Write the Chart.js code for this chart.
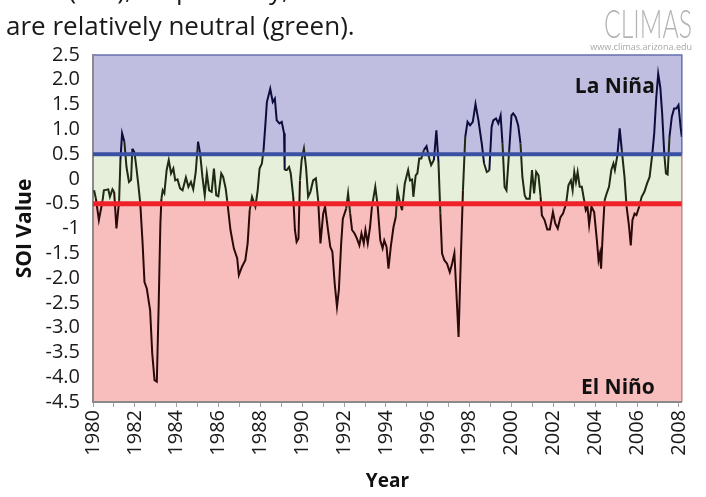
<!DOCTYPE html>
<html>
<head>
<meta charset="utf-8">
<script src="https://cdn.jsdelivr.net/npm/chart.js@4.4.1/dist/chart.umd.min.js"></script>
<style>
 html, body { margin: 0; padding: 0; background: #fff; }
</style>
</head>
<body>
<canvas id="soi" width="706" height="497"></canvas>
<script>
// SOI (decimal year, value)
const years = [
 1980.05,1980.14,1980.28,1980.46,1980.52,1980.73,1980.81,1980.93,1981.01,1981.12,1981.25,1981.31,1981.39,1981.50,1981.60,1981.72,1981.82,1981.88,1981.98,
 1982.07,1982.17,1982.26,1982.37,1982.46,1982.57,1982.73,1982.83,1982.94,1983.05,1983.14,1983.22,1983.27,1983.33,1983.41,1983.52,1983.62,1983.73,1983.84,1983.93,
 1984.04,1984.16,1984.28,1984.44,1984.56,1984.68,1984.79,1984.91,1985.02,1985.12,1985.23,1985.34,1985.44,1985.55,1985.67,1985.78,1985.89,1985.99,
 1986.13,1986.22,1986.34,1986.41,1986.57,1986.73,1986.89,1986.97,1987.12,1987.28,1987.39,1987.49,1987.60,1987.76,1987.87,1987.96,
 1988.07,1988.15,1988.23,1988.31,1988.47,1988.59,1988.69,1988.78,1988.91,1989.02,1989.13,1989.16,1989.26,1989.37,1989.45,1989.57,1989.65,1989.73,1989.82,1989.89,1989.97,
 1990.08,1990.18,1990.28,1990.39,1990.52,1990.65,1990.76,1990.87,1991.00,1991.09,1991.23,1991.34,1991.44,1991.55,1991.66,1991.75,1991.86,1991.94,
 1992.10,1992.19,1992.29,1992.38,1992.50,1992.61,1992.73,1992.83,1992.94,1993.02,1993.13,1993.24,1993.33,1993.49,1993.60,1993.73,1993.84,1993.92,
 1994.03,1994.12,1994.23,1994.36,1994.47,1994.55,1994.66,1994.77,1994.90,1995.06,1995.15,1995.25,1995.31,1995.42,1995.50,1995.59,1995.69,1995.81,1995.94,
 1996.05,1996.16,1996.29,1996.41,1996.51,1996.60,1996.68,1996.79,1996.92,1997.05,1997.16,1997.27,1997.36,1997.47,1997.58,1997.68,1997.79,1997.90,
 1998.02,1998.15,1998.28,1998.42,1998.58,1998.69,1998.82,1998.94,1999.05,1999.13,1999.26,1999.37,1999.48,1999.57,1999.67,1999.76,1999.89,
 2000.00,2000.08,2000.20,2000.32,2000.43,2000.52,2000.63,2000.71,2000.87,2000.98,2001.08,2001.18,2001.29,2001.39,2001.45,2001.58,2001.71,2001.83,2001.98,
 2002.09,2002.21,2002.34,2002.46,2002.61,2002.72,2002.84,2002.92,2003.00,2003.08,2003.16,2003.26,2003.36,2003.47,2003.55,2003.63,2003.71,2003.82,2003.95,
 2004.08,2004.16,2004.23,2004.28,2004.36,2004.45,2004.55,2004.66,2004.77,2004.87,2004.94,2005.06,2005.17,2005.27,2005.40,2005.50,2005.61,2005.70,2005.78,2005.88,2005.97,
 2006.10,2006.22,2006.35,2006.48,2006.60,2006.73,2006.82,2006.92,2007.01,2007.11,2007.20,2007.30,2007.38,2007.46,2007.55,2007.66,2007.77,2007.88,2007.98,2008.08,2008.14
];
const soi = [
 -0.23,-0.40,-0.83,-0.43,-0.23,-0.21,-0.36,-0.21,-0.26,-1.00,-0.43,0.38,0.92,0.75,0.24,-0.06,-0.02,0.61,0.54,
 0.24,-0.13,-0.50,-1.30,-2.08,-2.21,-2.65,-3.52,-4.06,-4.09,-2.51,-0.90,-0.40,-0.23,-0.29,0.18,0.38,0.11,0.21,-0.03,
 -0.01,-0.19,-0.23,0.03,-0.16,-0.06,-0.21,0.14,0.75,0.51,0.04,-0.33,0.11,-0.23,-0.26,0.21,-0.33,-0.35,
 0.11,0.04,-0.19,-0.43,-1.03,-1.40,-1.60,-1.94,-1.77,-1.64,-1.30,-0.63,-0.36,-0.56,-0.23,0.21,
 0.31,0.58,1.05,1.55,1.82,1.55,1.62,1.18,1.12,1.15,0.92,0.18,0.18,0.24,0.11,-0.36,-1.03,-1.27,-1.20,-0.03,0.38,
 0.61,0.24,-0.36,-0.26,-0.03,0.01,-0.43,-1.30,-0.70,-0.56,-1.03,-1.37,-1.47,-2.11,-2.58,-2.24,-1.30,-0.80,
 -0.60,-0.29,-0.70,-1.03,-1.10,-1.20,-1.34,-1.10,-1.30,-1.03,-1.30,-0.97,-0.56,-0.16,-0.53,-1.24,-1.40,-1.24,
 -1.37,-1.81,-1.37,-0.97,-0.77,-0.23,-0.46,-0.63,-0.09,0.18,-0.03,-0.01,-0.36,0.07,0.11,0.41,0.41,0.58,0.66,
 0.44,0.28,0.38,0.98,0.34,-0.70,-1.50,-1.64,-1.71,-1.88,-1.71,-1.50,-2.24,-3.19,-1.57,-0.23,0.85,1.15,
 1.08,1.15,1.51,1.18,0.71,0.31,0.14,0.17,1.05,1.18,1.22,1.12,1.28,0.71,-0.16,-0.23,0.58,
 1.28,1.32,1.25,1.08,0.71,0.04,-0.33,-0.40,-0.40,0.18,-0.29,0.14,0.07,-0.36,-0.73,-0.83,-1.02,-1.02,-0.67,
 -0.90,-1.00,-0.77,-0.70,-0.50,-0.13,-0.03,-0.23,0.14,-0.06,0.14,-0.16,-0.16,-0.43,-0.63,-0.56,-0.93,-0.56,-0.67,
 -1.24,-1.64,-1.50,-1.81,-1.10,-0.43,-0.29,-0.16,0.18,0.31,0.18,0.48,1.02,0.58,0.04,-0.56,-0.93,-1.34,-0.83,-0.70,-0.73,
 -0.56,-0.36,-0.26,-0.09,0.04,0.51,0.92,1.65,2.12,1.85,1.32,0.51,0.11,0.09,0.85,1.25,1.42,1.42,1.49,1.05,0.85
];

// axis ticks as printed
const yTickValues = [2.5, 2, 1.5, 1, 0.5, 0, -0.5, -1, -1.5, -2, -2.5, -3, -3.5, -4, -4.5];
const yTickLabels = ['2.5','2.0','1.5','1.0','0.5','0','-0.5','-1','-1.5','-2.0','-2.5','-3.0','-3.5','-4.0','-4.5'];
const xTickYears = [1980,1981,1982,1983,1984,1985,1986,1987,1988,1989,1990,1991,1992,1993,1994,1995,1996,1997,1998,1999,2000,2001,2002,2003,2004,2005,2006,2007,2008];
const xTickLabels = ['1980','','1982','','1984','','1986','','1988','','1990','','1992','','1994','','1996','','1998','','2000','','2002','','2004','','2006','','2008'];

// thresholds and shaded bands
const laNinaLevel = 0.5;
const elNinoLevel = -0.5;
const bands = [[2.5, 0.5], [0.5, -0.5], [-0.5, -4.5]];
const bandColors = ['#bfbde0', '#e5efd9', '#f8bebe'];

const xMin = 1980, xMax = 2008.14;
const FONT = '"Open Sans", "Noto Sans", sans-serif';

const bandsPlugin = {
 id: 'bands',
 beforeDraw(chart) {
  const {ctx, chartArea: a, scales: {y}} = chart;
  ctx.save();
  bands.forEach((b, i) => {
   const top = y.getPixelForValue(b[0]);
   const bot = y.getPixelForValue(b[1]);
   ctx.fillStyle = bandColors[i];
   ctx.fillRect(a.left, top, a.right - a.left, bot - top);
  });
  // thin outline round the box
  ctx.strokeStyle = '#6470b0';
  ctx.lineWidth = 1.5;
  const t = y.getPixelForValue(bands[0][0]), m = y.getPixelForValue(bands[0][1]);
  ctx.beginPath();
  ctx.moveTo(a.left, t); ctx.lineTo(a.right, t); ctx.lineTo(a.right, m);
  ctx.stroke();
  ctx.strokeStyle = '#b98e8e';
  ctx.beginPath();
  ctx.moveTo(a.right, m); ctx.lineTo(a.right, a.bottom);
  ctx.stroke();
  ctx.restore();
 },
 afterDraw(chart) {
  const {ctx, scales: {x, y}} = chart;
  ctx.save();
  // caption above the chart (first line cut off by the top edge)
  ctx.fillStyle = '#1a1a1a';
  ctx.font = '26px ' + FONT;
  ctx.textAlign = 'left';
  ctx.textBaseline = 'alphabetic';
  ctx.fillText('Niño (red), respectively, and values in between', 4, -1);
  ctx.fillText('are relatively neutral (green).', 6, 35);

  // logo
  ctx.textAlign = 'right';
  ctx.fillStyle = '#b4b4b4';
  ctx.font = '300 40px Lato, ' + FONT;
  ctx.fillText('CLIMAS', 692, 38, 88);
  ctx.font = '9px ' + FONT;
  ctx.fillStyle = '#a8a8a8';
  ctx.fillText('www.climas.arizona.edu', 692, 50);

  // phase labels
  ctx.fillStyle = '#111';
  ctx.font = 'bold 21px ' + FONT;
  ctx.textBaseline = 'middle';
  ctx.fillText('La Niña', x.getPixelForValue(2006.85), y.getPixelForValue(1.85));
  ctx.fillText('El Niño', x.getPixelForValue(2006.85), y.getPixelForValue(-4.22));
  ctx.restore();
 }
};

const navy = '#0c0c3c', olive = '#1e2a12', maroon = '#2a0909';

new Chart(document.getElementById('soi'), {
 type: 'line',
 data: {
  datasets: [
   {
    label: 'La Niña threshold',
    data: [{x: xMin, y: laNinaLevel}, {x: xMax, y: laNinaLevel}],
    borderColor: '#3a51a3',
    borderWidth: 4,
    pointRadius: 0
   },
   {
    label: 'El Niño threshold',
    data: [{x: xMin, y: elNinoLevel}, {x: xMax, y: elNinoLevel}],
    borderColor: '#ee2228',
    borderWidth: 5,
    pointRadius: 0
   },
   {
    label: 'SOI',
    data: years.map((yr, i) => ({x: yr, y: soi[i]})),
    borderColor: '#1a1a1a',
    borderWidth: 2,
    pointRadius: 0,
    tension: 0,
    segment: {
     borderColor: c => {
      const m = (c.p0.parsed.y + c.p1.parsed.y) / 2;
      return m > laNinaLevel ? navy : (m < elNinoLevel ? maroon : olive);
     }
    }
   }
  ]
 },
 options: {
  responsive: false,
  animation: false,
  events: [],
  layout: { padding: { top: 55, right: 19, left: 0, bottom: 0 } },
  plugins: { legend: { display: false }, tooltip: { enabled: false } },
  scales: {
   x: {
    type: 'linear',
    min: xMin,
    max: xMax,
    afterFit: s => { s.height = 95; },
    afterBuildTicks: s => { s.ticks = xTickYears.map(v => ({value: v})); },
    ticks: {
     autoSkip: false,
     minRotation: 90,
     maxRotation: 90,
     padding: 3,
     color: '#1a1a1a',
     font: { family: FONT, size: 20 },
     callback: (v, i) => xTickLabels[i]
    },
    grid: { drawOnChartArea: false, tickLength: 5, color: '#a0a0a0' },
    border: { display: true, color: '#8a8a8a', width: 2 },
    title: {
     display: true,
     text: 'Year',
     color: '#111',
     font: { family: FONT, size: 19, weight: 'bold' },
     padding: { top: 0, bottom: 4 }
    }
   },
   y: {
    min: -4.5,
    max: 2.5,
    afterFit: s => { s.width = 93; },
    afterBuildTicks: s => { s.ticks = yTickValues.map(v => ({value: v})); },
    ticks: {
     autoSkip: false,
     padding: 5,
     color: '#1a1a1a',
     font: { family: FONT, size: 20, lineHeight: 1 },
     callback: (v, i) => yTickLabels[i]
    },
    grid: { display: false },
    border: { display: true, color: '#8a8a8a', width: 2 },
    title: {
     display: true,
     text: 'SOI Value',
     color: '#111',
     font: { family: FONT, size: 21, weight: 'bold' },
     padding: { top: 12, bottom: 0 }
    }
   }
  }
 },
 plugins: [bandsPlugin]
});
</script>
</body>
</html>
